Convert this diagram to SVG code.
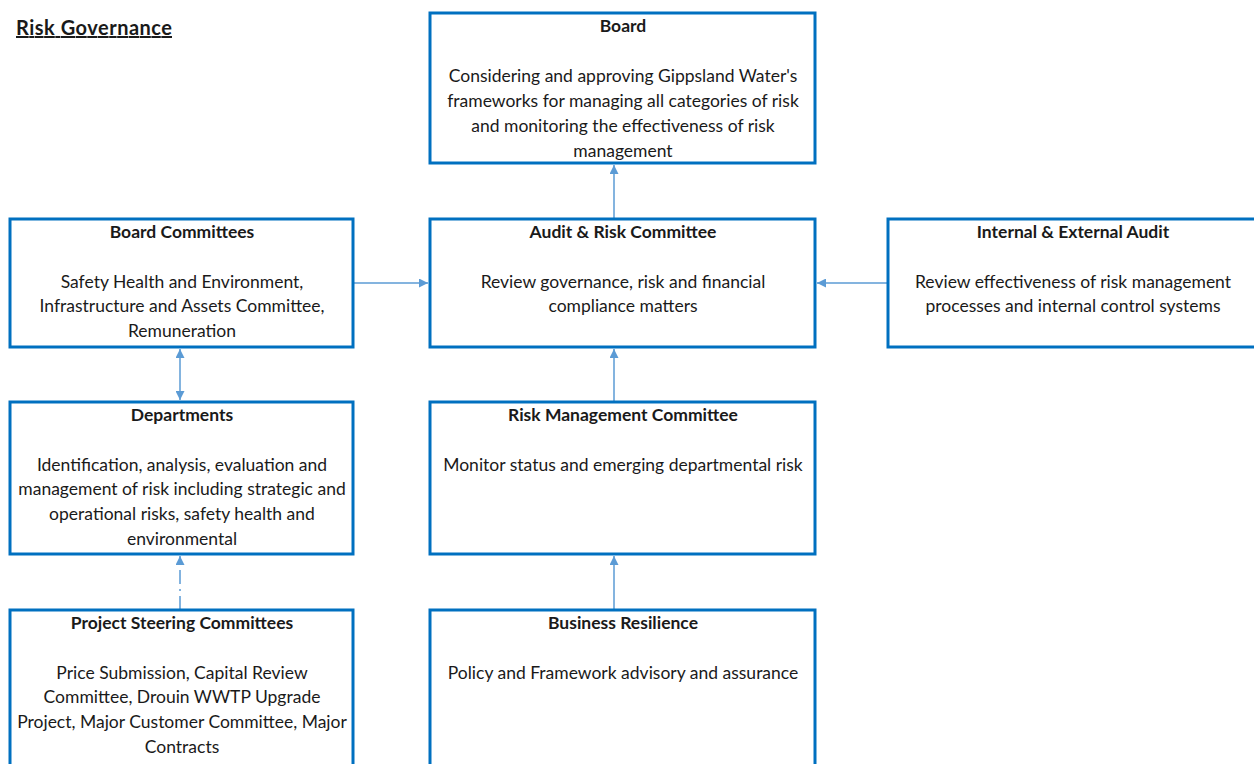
<svg xmlns="http://www.w3.org/2000/svg" width="1254" height="764" viewBox="0 0 1254 764">
  <style>
    .box { fill: #ffffff; stroke: #0070C0; stroke-width: 3; }
    .ttl { font-family: Lato, "Liberation Sans", sans-serif; font-size: 17.5px; font-weight: bold; fill: #1a1a1a; text-anchor: middle; }
    .txt { font-family: Lato, "Liberation Sans", sans-serif; font-size: 17.5px; fill: #1a1a1a; text-anchor: middle; }
    .link { fill: none; stroke: #5B9BD5; stroke-width: 1.5; }
  </style>
  <defs>
    <marker id="arrow" viewBox="0 0 10 10" refX="10" refY="5" markerWidth="9" markerHeight="9" markerUnits="userSpaceOnUse" orient="auto-start-reverse">
      <path d="M0,0 L10,5 L0,10 z" fill="#5B9BD5"/>
    </marker>
  </defs>
  <rect width="1254" height="764" fill="#ffffff"/>

  <text x="16" y="35" font-family="Lato, 'Liberation Sans', sans-serif" font-size="20" font-weight="bold" fill="#1a1a1a" text-decoration="underline" textLength="156" lengthAdjust="spacing">Risk Governance</text>

  <g id="connectors">
    <line class="link" x1="614" y1="218" x2="614" y2="165" marker-end="url(#arrow)"/>
    <line class="link" x1="353" y1="283" x2="428" y2="283" marker-end="url(#arrow)"/>
    <line class="link" x1="888" y1="283" x2="817" y2="283" marker-end="url(#arrow)"/>
    <line class="link" x1="180" y1="349" x2="180" y2="400" marker-start="url(#arrow)" marker-end="url(#arrow)"/>
    <line class="link" x1="180" y1="610" x2="180" y2="556" stroke-dasharray="14,5,2,5" marker-end="url(#arrow)"/>
    <line class="link" x1="614" y1="402" x2="614" y2="349" marker-end="url(#arrow)"/>
    <line class="link" x1="614" y1="610" x2="614" y2="556" marker-end="url(#arrow)"/>
  </g>

  <g id="board">
    <rect class="box" x="430" y="13" width="385" height="150"/>
    <text class="ttl" x="623" y="32">Board</text>
    <text class="txt" x="623" y="82">Considering and approving Gippsland Water's</text>
    <text class="txt" x="623" y="107">frameworks for managing all categories of risk</text>
    <text class="txt" x="623" y="132">and monitoring the effectiveness of risk</text>
    <text class="txt" x="623" y="157">management</text>
  </g>

  <g id="board-committees">
    <rect class="box" x="10" y="219" width="343" height="128"/>
    <text class="ttl" x="182" y="238">Board Committees</text>
    <text class="txt" x="182" y="288">Safety Health and Environment,</text>
    <text class="txt" x="182" y="312">Infrastructure and Assets Committee,</text>
    <text class="txt" x="182" y="337">Remuneration</text>
  </g>

  <g id="audit-risk">
    <rect class="box" x="430" y="219" width="385" height="128"/>
    <text class="ttl" x="623" y="238">Audit &amp; Risk Committee</text>
    <text class="txt" x="623" y="288">Review governance, risk and financial</text>
    <text class="txt" x="623" y="312">compliance matters</text>
  </g>

  <g id="audit">
    <rect class="box" x="888" y="219" width="372" height="128"/>
    <text class="ttl" x="1073" y="238">Internal &amp; External Audit</text>
    <text class="txt" x="1073" y="288">Review effectiveness of risk management</text>
    <text class="txt" x="1073" y="312">processes and internal control systems</text>
  </g>

  <g id="departments">
    <rect class="box" x="10" y="402" width="343" height="152"/>
    <text class="ttl" x="182" y="421">Departments</text>
    <text class="txt" x="182" y="471">Identification, analysis, evaluation and</text>
    <text class="txt" x="182" y="495">management of risk including strategic and</text>
    <text class="txt" x="182" y="520">operational risks, safety health and</text>
    <text class="txt" x="182" y="545">environmental</text>
  </g>

  <g id="risk-management">
    <rect class="box" x="430" y="402" width="385" height="152"/>
    <text class="ttl" x="623" y="421">Risk Management Committee</text>
    <text class="txt" x="623" y="471">Monitor status and emerging departmental risk</text>
  </g>

  <g id="project-steering">
    <rect class="box" x="10" y="610" width="343" height="170"/>
    <text class="ttl" x="182" y="629">Project Steering Committees</text>
    <text class="txt" x="182" y="679">Price Submission, Capital Review</text>
    <text class="txt" x="182" y="703">Committee, Drouin WWTP Upgrade</text>
    <text class="txt" x="182" y="728">Project, Major Customer Committee, Major</text>
    <text class="txt" x="182" y="753">Contracts</text>
  </g>

  <g id="business-resilience">
    <rect class="box" x="430" y="610" width="385" height="170"/>
    <text class="ttl" x="623" y="629">Business Resilience</text>
    <text class="txt" x="623" y="679">Policy and Framework advisory and assurance</text>
  </g>
</svg>
